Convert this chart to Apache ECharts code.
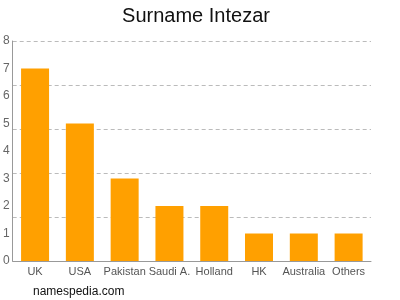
<!DOCTYPE html>
<html>
<head>
<meta charset="utf-8">
<script src="https://cdn.jsdelivr.net/npm/echarts@6/dist/echarts.min.js"></script>
<style>
html,body{margin:0;padding:0;background:#fff;}
#c{width:400px;height:300px;}
</style>
</head>
<body>
<div id="c"></div>
<script>
var categories = ['UK', 'USA', 'Pakistan', 'Saudi A.', 'Holland', 'HK', 'Australia', 'Others'];
var values = [7, 5, 3, 2, 2, 1, 1, 1];
var yTicks = [0, 1, 2, 3, 4, 5, 6, 7, 8];

var chart = echarts.init(document.getElementById('c'), null, {renderer: 'canvas'});
var font = 'Liberation Sans, Arial, Helvetica, sans-serif';
chart.setOption({
  animation: false,
  backgroundColor: '#fff',
  title: {
    text: 'Surname Intezar',
    left: 191, top: 1, textAlign: 'center',
    textStyle: {fontFamily: font, fontSize: 20, fontWeight: 'normal', color: '#111'}
  },
  graphic: [{
    type: 'text', left: 33, top: 286,
    style: {text: 'namespedia.com', fontFamily: font, fontSize: 12, fill: '#111'}
  }],
  grid: {left: 11.5, right: 29, top: 41, bottom: 39, containLabel: false},
  xAxis: {
    type: 'category',
    data: categories,
    axisLine: {lineStyle: {color: '#999'}},
    axisTick: {alignWithLabel: true, length: 3, lineStyle: {color: '#999'}},
    axisLabel: {fontFamily: font, fontSize: 11, color: '#555', margin: 5, interval: 0}
  },
  yAxis: [{
    type: 'value', min: yTicks[0], max: yTicks[yTicks.length - 1], interval: 1,
    axisLine: {show: true, lineStyle: {color: '#999'}},
    axisTick: {show: false},
    axisLabel: {fontFamily: font, fontSize: 12, color: '#666', margin: 3},
    splitLine: {show: false}
  }, {
    type: 'value', min: 0, max: 8, interval: 1.6, position: 'left',
    axisLine: {show: false}, axisTick: {show: false}, axisLabel: {show: false},
    splitLine: {show: true, lineStyle: {color: '#bbb', type: [4, 3], width: 1}}
  }],
  series: [{
    type: 'bar', data: values, yAxisIndex: 0,
    barWidth: 28,
    itemStyle: {color: '#ffa000'}
  }]
});
</script>
</body>
</html>
